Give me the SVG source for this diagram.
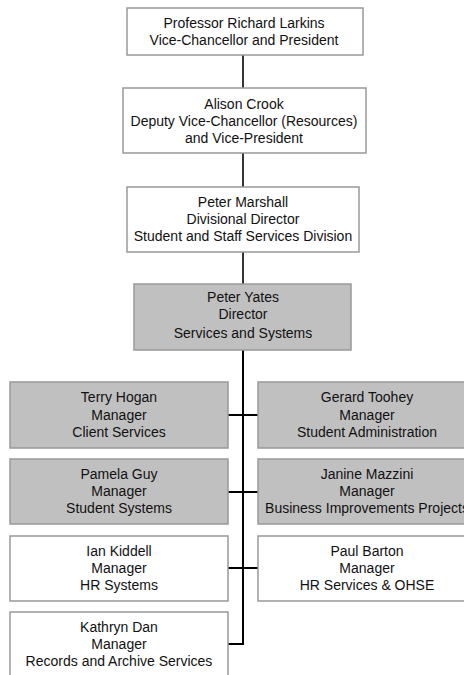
<svg xmlns="http://www.w3.org/2000/svg" width="464" height="675" viewBox="0 0 464 675">
<style>
.b{fill:#ffffff;stroke:#999999;stroke-width:1.5}
.g{fill:#c0c0c0;stroke:#999999;stroke-width:1.5}
text{font-family:"Liberation Sans",Arial,sans-serif;font-size:14px;fill:#111111;text-anchor:middle}
.c1{stroke:#333333;stroke-width:2;fill:none}
.c2{stroke:#000000;stroke-width:2;fill:none}
</style>
<rect width="464" height="675" fill="#ffffff"/>
<g id="connectors">
<line class="c1" x1="243" y1="55" x2="243" y2="88"/>
<line class="c1" x1="243" y1="153" x2="243" y2="187"/>
<line class="c1" x1="243" y1="252" x2="243" y2="284"/>
<polyline class="c2" points="243,350 243,644 228,644"/>
<line class="c2" x1="228" y1="415" x2="258" y2="415" stroke-width="1.5"/>
<line class="c2" x1="228" y1="492" x2="258" y2="492" stroke-width="1.5"/>
<line class="c2" x1="228" y1="568" x2="258" y2="568" stroke-width="1.5"/>
</g>
<g id="larkins">
<rect class="b" x="127" y="8" width="236" height="47"/>
<text x="244" y="28">Professor Richard Larkins</text>
<text x="244" y="45">Vice-Chancellor and President</text>
</g>
<g id="crook">
<rect class="b" x="123" y="88" width="243" height="65"/>
<text x="244" y="109">Alison  Crook</text>
<text x="244" y="126">Deputy Vice-Chancellor (Resources)</text>
<text x="244" y="143">and Vice-President</text>
</g>
<g id="marshall">
<rect class="b" x="127" y="187" width="232" height="65"/>
<text x="243" y="207">Peter Marshall</text>
<text x="243" y="224">Divisional Director</text>
<text x="243" y="241">Student and Staff Services Division</text>
</g>
<g id="yates">
<rect class="g" x="134" y="284" width="217" height="66"/>
<text x="243" y="302">Peter Yates</text>
<text x="243" y="319">Director</text>
<text x="243" y="338">Services and Systems</text>
</g>
<g id="hogan">
<rect class="g" x="10" y="382" width="218" height="66"/>
<text x="119" y="402">Terry Hogan</text>
<text x="119" y="420">Manager</text>
<text x="119" y="437">Client Services</text>
</g>
<g id="toohey">
<rect class="g" x="258" y="382" width="218" height="66"/>
<text x="367" y="402">Gerard Toohey</text>
<text x="367" y="420">Manager</text>
<text x="367" y="437">Student Administration</text>
</g>
<g id="guy">
<rect class="g" x="10" y="459" width="218" height="65"/>
<text x="119" y="479">Pamela Guy</text>
<text x="119" y="496">Manager</text>
<text x="119" y="513">Student Systems</text>
</g>
<g id="mazzini">
<rect class="g" x="258" y="459" width="218" height="65"/>
<text x="367" y="479">Janine Mazzini</text>
<text x="367" y="496">Manager</text>
<text x="367" y="513">Business Improvements Projects</text>
</g>
<g id="kiddell">
<rect class="b" x="10" y="536" width="218" height="65"/>
<text x="119" y="556">Ian Kiddell</text>
<text x="119" y="573">Manager</text>
<text x="119" y="590">HR Systems</text>
</g>
<g id="barton">
<rect class="b" x="258" y="536" width="218" height="65"/>
<text x="367" y="556">Paul Barton</text>
<text x="367" y="573">Manager</text>
<text x="367" y="590">HR Services &amp; OHSE</text>
</g>
<g id="dan">
<rect class="b" x="10" y="612" width="218" height="75"/>
<text x="119" y="632">Kathryn Dan</text>
<text x="119" y="649">Manager</text>
<text x="119" y="666">Records and Archive Services</text>
</g>
</svg>
